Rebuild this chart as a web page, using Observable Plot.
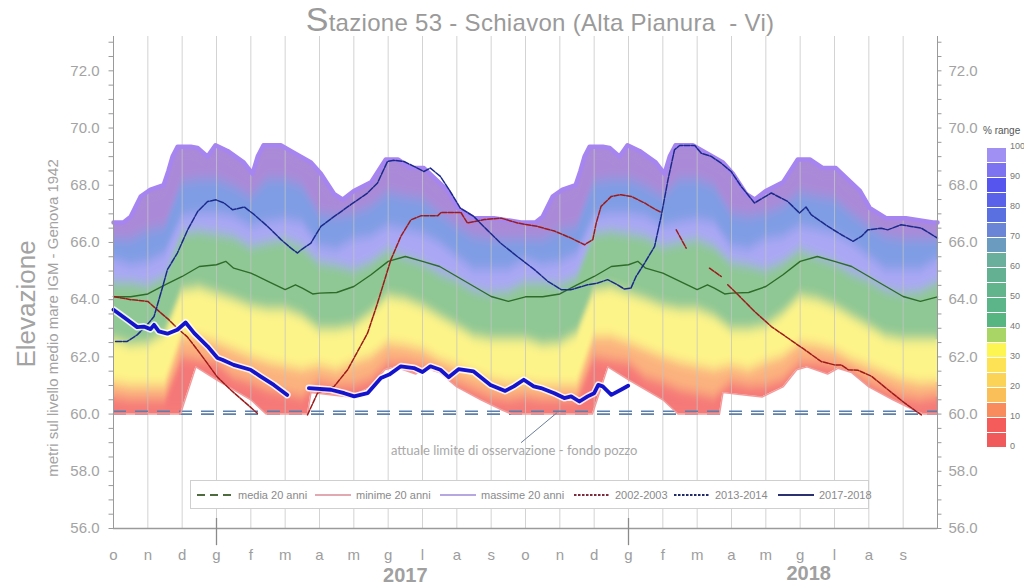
<!DOCTYPE html>
<html><head><meta charset="utf-8">
<script src="https://cdn.jsdelivr.net/npm/d3@7"></script>
<script src="https://cdn.jsdelivr.net/npm/@observablehq/plot@0.6"></script>
<style>
body{margin:0;background:#fff;}
#wrap{position:relative;width:1024px;height:587px;overflow:hidden;font-family:"Liberation Sans",Arial,sans-serif;}
#wrap svg.layer{position:absolute;left:0;top:0;}
#title{position:absolute;left:28px;top:0px;width:1024px;text-align:center;color:#9a9a9a;font-size:24px;white-space:nowrap;letter-spacing:0.3px;}
#title .big{font-size:34px;}
.ylab{position:absolute;white-space:nowrap;color:#a3a3a3;transform:translate(-50%,-50%) rotate(-90deg);}
#cleg{position:absolute;left:979px;top:118px;width:45px;height:340px;background:#fff;}
#cleg .hdr{position:absolute;left:4px;top:7px;font-size:10px;color:#555;white-space:nowrap;}
#cleg .seg{position:absolute;left:8px;width:19px;height:14px;}
#cleg .lbl{position:absolute;left:31px;font-size:9px;color:#777;}
#leg{position:absolute;left:190px;top:480px;width:677px;height:27px;border:1px solid #cfcfcf;background:#fff;}
#leg .it{position:absolute;top:0;height:27px;display:flex;align-items:center;font-size:11px;color:#8a8a8a;white-space:nowrap;}
#leg svg{display:block;}
</style></head>
<body><div id="wrap"></div>
<script>
// ---------------- DATA ----------------
const monthLetters = ["o","n","d","g","f","m","a","m","g","l","a","s"];
const yearLabels = ["2017","2018"];
const yTicksMajor = [56,58,60,62,64,66,68,70,72];
const limitLevels = [60.0, 60.1];

// percentile band boundaries (one hydrological year, months from 1 Oct)
const gridT = [0,0.5,1,1.5,2,2.5,3,3.5,4,4.5,5,5.5,6,6.5,7,7.5,8,8.5,9,9.5,10,10.5,11,11.5,12];
const p85 = [66.1,66.1,66.4,66.55,68.1,68.2,68.2,67.96,67.6,68.2,68.2,67.96,67.0,66.9,67.0,67.26,67.73,67.6,67.5,67.0,66.56,66.2,66.1,66.1,66.1];
const p78 = [65.4,65.2,65.3,65.6,66.9,67.0,67.0,66.9,66.56,66.7,66.8,66.68,65.86,65.75,66.1,66.2,66.56,66.44,66.3,65.97,65.5,65.05,65.05,65.05,65.4];
const p65 = [64.6,64.6,64.5,64.8,66.3,66.4,66.3,66.2,65.86,66.0,66.1,65.86,65.3,65.2,65.05,65.3,65.74,65.5,65.3,64.93,64.7,64.35,64.23,64.3,64.6];
const p38 = [62.6,62.4,62.45,62.8,64.3,64.4,64.2,64.0,63.76,63.65,63.65,63.4,62.95,62.95,63.06,63.5,64.1,64.0,63.76,63.4,63.06,62.7,62.6,62.6,62.6];
const p22 = [61.1,61.0,61.0,61.0,62.7,62.7,62.5,62.25,62.0,61.8,61.67,61.55,61.7,61.55,61.8,62.0,62.48,62.4,62.25,61.9,61.67,61.43,61.2,61.08,61.1];
const p10 = [60.6,60.5,60.5,60.5,62.0,61.9,61.8,61.3,61.1,60.85,60.73,60.6,61.1,60.97,61.0,61.2,61.78,61.78,61.67,61.5,61.1,60.85,60.6,60.5,60.6];

// massime 20 anni
const maxT = [0,0.29,0.5,0.79,1.08,1.46,1.6,1.72,1.87,2.25,2.45,2.74,2.97,3.32,3.79,4.05,4.2,4.37,4.87,5.16,5.75,6.04,6.42,6.68,7.0,7.5,7.93,8.28,8.66,9.04,9.74,10.03,10.5,11.08,11.87,12];
const maxV = [66.7,66.7,66.9,67.6,67.85,68.0,68.5,69.0,69.35,69.35,69.3,69.0,69.4,69.2,68.8,68.4,69.0,69.4,69.4,69.2,68.8,68.4,67.7,67.5,67.8,68.1,68.9,68.9,68.6,68.6,67.8,67.2,66.85,66.85,66.7,66.7];
// minime 20 anni
const minT = [0,1.95,2.4,3.0,4.0,4.45,5.65,5.75,6.5,6.9,7.5,7.9,8.2,8.8,9.1,9.5,10.0,10.7,11.3,11.6,12];
const minV = [60,60,61.65,61.2,60.5,60,60,60.75,60.65,60.6,60.95,61.55,61.65,61.4,61.6,61.45,60.95,60.5,60.15,60,60];
// media 20 anni
const mediaT = [0,0.5,1,1.5,2,2.5,3,3.27,3.5,4,4.5,5,5.3,5.5,5.8,6,6.5,7,7.5,8,8.5,9,9.5,10,10.5,11,11.5,12];
const mediaV = [64.1,64.1,64.2,64.52,64.81,65.16,65.22,65.34,65.1,64.93,64.64,64.35,64.52,64.4,64.2,64.23,64.25,64.46,64.87,65.34,65.51,65.34,65.16,64.81,64.46,64.11,63.94,64.1];

// 2002-2003
const s0203T = [0,0.5,1.0,1.27,1.61,1.86,2.15,2.44,2.73,3.02,3.41,3.8,4.19,4.3,5.65,5.94,6.43,6.82,7.4,7.69,8.08,8.37,8.66,8.95,9.44,9.54,10.12,10.22,10.31,10.8,11.29,11.77,12.35,12.84,13.33,13.72,13.96,14.06,14.2,14.5,14.78,15.08,15.47,15.76,15.95,16.1,16.39,16.68,17.0,17.36,17.7,17.8,17.89,18.19,18.67,19.16,19.64,20.13,20.61,21.0,21.2,21.4,21.69,22.08,22.56,23.05,23.53];
const s0203V = [64.11,64.0,63.94,63.65,63.3,63.0,62.7,62.25,61.78,61.3,60.85,60.44,60.03,null,59.97,60.73,60.97,61.55,62.83,63.88,65.4,66.21,66.79,66.93,66.93,67.05,67.05,66.85,66.68,66.8,66.85,66.68,66.56,66.4,66.15,65.92,66.1,66.68,67.26,67.61,67.67,67.61,67.38,67.17,67.05,null,66.44,65.8,null,65.1,64.81,null,64.52,64.17,63.59,63.06,62.66,62.25,61.84,61.72,61.72,61.55,61.53,61.32,60.85,60.38,59.97];
// 2013-2014
const s1314T = [0.06,0.4,0.69,0.98,1.18,1.42,1.57,1.86,2.16,2.45,2.74,2.98,3.22,3.47,3.81,4.1,4.49,4.88,5.17,5.36,5.46,5.75,6.04,6.43,6.91,7.4,7.69,7.98,8.17,8.46,8.75,9.04,9.23,9.52,9.81,10.1,10.49,10.88,11.27,11.76,12.26,12.65,13.04,13.33,13.81,14.1,14.39,14.68,14.88,15.07,15.22,15.47,15.76,15.95,16.15,16.34,16.49,16.93,17.12,17.41,17.7,17.99,18.28,18.67,19.16,19.64,19.98,20.17,20.32,20.81,21.2,21.54,21.78,21.97,22.36,22.55,22.94,23.23,23.53,24.0];
const s1314V = [62.54,62.54,62.77,63.12,63.41,64.4,65.05,65.63,66.44,67.08,67.43,67.49,67.38,67.14,67.24,66.97,66.56,66.1,65.8,65.63,65.74,65.98,66.56,66.91,67.32,67.73,68.08,68.83,68.87,68.83,68.66,68.48,68.6,68.31,67.78,67.2,66.91,66.44,65.98,65.51,65.05,64.64,64.35,64.35,64.52,64.58,64.7,64.52,64.37,64.4,64.81,65.28,65.86,66.91,68.19,69.24,69.39,69.39,69.12,69.01,68.77,68.48,67.96,67.38,67.73,67.43,67.03,67.24,66.97,66.56,66.27,66.04,66.21,66.44,66.5,66.44,66.62,66.56,66.5,66.15];
// 2017-2018
const s1718T = [0,0.4,0.69,0.88,1.08,1.18,1.32,1.57,1.86,2.1,2.35,2.74,3.03,3.17,3.5,3.99,4.28,4.67,5.06,5.3,5.69,6.33,6.72,7.01,7.4,7.79,8.03,8.37,8.75,9.0,9.23,9.52,9.76,10.05,10.49,10.98,11.41,11.66,11.95,12.24,12.45,12.84,13.13,13.33,13.57,13.81,14.0,14.12,14.25,14.5,14.78,14.99];
const s1718V = [63.65,63.3,63.04,63.06,62.97,63.12,62.89,62.81,62.95,63.2,62.83,62.37,61.96,61.9,61.72,61.55,61.32,61.02,60.67,null,60.91,60.85,60.73,60.62,60.73,61.26,61.38,61.67,61.61,61.47,61.67,61.55,61.29,61.57,61.49,61.02,60.81,60.97,61.2,60.97,60.91,60.73,60.56,60.62,60.44,60.62,60.73,61.02,60.97,60.67,60.85,60.99];

// colour scale of the "% range" legend (top = 100)
const rangeColors = ["#a090f4","#7d72ef","#5656ef","#5b62ea","#5a70e0","#6a84d6","#6b9cbf","#6aae9c","#63b192","#62b48c","#5cb588","#56b581","#a9d566","#fdf552","#fde255","#fbd357","#fbbf5a","#f88c5c","#f45b5b","#f15a5a"];
const rangeLabels = ["100","90","80","70","60","50","40","30","20","10","0"];
const legendItems = ["media 20 anni","minime 20 anni","massime 20 anni","2002-2003","2013-2014","2017-2018"];

// ---------------- BUILD ----------------
const rows = (ts, vs) => ts.map((t, i) => ({t, v: vs[i]}));
const twoYears = (ts, vs) => [0, 12].flatMap(off => ts.map((t, i) => ({t: t + off, v: vs[i]})));

const maxRows = twoYears(maxT, maxV);
const minRows = twoYears(minT, minV);
const mediaRows = twoYears(mediaT, mediaV);
const bands = [
  [maxRows, "#aa8ad8"],
  [twoYears(gridT, p85), "#7f9de4"],
  [twoYears(gridT, p78), "#aaa7f5"],
  [twoYears(gridT, p65), "#8fc894"],
  [twoYears(gridT, p38), "#fdf489"],
  [twoYears(gridT, p22), "#fbb27e"],
  [twoYears(gridT, p10), "#f57878"]
];
const monthRows = d3.range(24).map(i => ({t: i, m: monthLetters[i % 12]}));

const common = {
  width: 1024, height: 587,
  marginLeft: 113, marginRight: 87, marginTop: 36, marginBottom: 59,
  x: {type: "linear", domain: [0, 24], axis: null},
  y: {type: "linear", domain: [56, 73.2], axis: null},
  style: {background: "transparent", overflow: "visible"}
};
const font = "Liberation Sans, Arial, sans-serif";
const bandMarks = () => bands.map(([r, c]) => Plot.areaY(r, {x: "t", y1: 60, y2: "v", fill: c}));

const wrap = document.getElementById("wrap");
const layerA = Plot.plot({...common, marks: bandMarks()});
const layerB = Plot.plot({...common, marks: bandMarks()});
// soften the colour transitions of the percentile bands
(function () {
  const ns = "http://www.w3.org/2000/svg";
  const defs = document.createElementNS(ns, "defs");
  const f = document.createElementNS(ns, "filter");
  f.setAttribute("id", "softBands");
  f.setAttribute("x", "-5%"); f.setAttribute("y", "-10%");
  f.setAttribute("width", "110%"); f.setAttribute("height", "120%");
  const gb = document.createElementNS(ns, "feGaussianBlur");
  gb.setAttribute("stdDeviation", "1.5 6");
  f.appendChild(gb); defs.appendChild(f); layerB.appendChild(defs);
  const g = document.createElementNS(ns, "g");
  g.setAttribute("filter", "url(#softBands)");
  Array.from(layerB.children).filter(n => n.tagName.toLowerCase() === "g").forEach(n => g.appendChild(n));
  layerB.appendChild(g);
})();

const layerC = Plot.plot({...common, marks: [
  // masks
  Plot.areaY(maxRows, {x: "t", y1: "v", y2: 73.6, fill: "white"}),
  Plot.areaY(minRows, {x: "t", y1: 55.0, y2: "v", fill: "white"}),
  Plot.rect([0], {x1: -1, x2: 0, y1: 58, y2: 71, fill: "white"}),
  Plot.rect([0], {x1: 24, x2: 25, y1: 58, y2: 71, fill: "white"}),
  // grid
  Plot.ruleX(d3.range(1, 24), {y1: 56, y2: 73.2, stroke: "#c4c4c4", strokeOpacity: 0.75}),
  // limit lines
  Plot.ruleY(limitLevels, {x1: 0, x2: 24, stroke: "#5b80ad", strokeWidth: 1.6, strokeDasharray: "13,9"}),
  // statistic lines
  Plot.line(minRows, {x: "t", y: "v", stroke: "#f29c9c", strokeWidth: 1.5}),
  Plot.line(maxRows, {x: "t", y: "v", stroke: "#a685f0", strokeWidth: 4.5}),
  Plot.line(mediaRows, {x: "t", y: "v", stroke: "#2f6b2a", strokeWidth: 1.4}),
  Plot.line(rows(s0203T, s0203V), {x: "t", y: "v", stroke: "#9c1a1a", strokeWidth: 1.5, strokeDasharray: "5,1.5"}),
  Plot.line(rows(s1314T, s1314V), {x: "t", y: "v", stroke: "#1b2a8a", strokeWidth: 1.5, strokeDasharray: "6,1.5"}),
  Plot.line(rows(s1718T, s1718V), {x: "t", y: "v", stroke: "white", strokeWidth: 7, strokeOpacity: 0.8}),
  Plot.line(rows(s1718T, s1718V), {x: "t", y: "v", stroke: "#1414cc", strokeWidth: 3.8}),
  // axes
  Plot.ruleX([0, 24], {y1: 56, y2: 73.2, stroke: "#9a9a9a"}),
  Plot.ruleY([56], {x1: 0, x2: 24, stroke: "#9a9a9a", strokeWidth: 1.5}),
  Plot.ruleY(d3.range(56, 73.01, 0.5), {x1: -0.13, x2: 0, stroke: "#9a9a9a"}),
  Plot.ruleY(d3.range(56, 73.01, 0.5), {x1: 24, x2: 24.13, stroke: "#9a9a9a"}),
  Plot.ruleX([3, 15], {y1: 55.4, y2: 56.35, stroke: "#8a8a8a", strokeWidth: 1.3}),
  Plot.text(yTicksMajor, {x: 0, y: d => d, text: d => d.toFixed(1), dx: -14, textAnchor: "end", fill: "#a3a3a3", fontSize: 15, fontFamily: font}),
  Plot.text(yTicksMajor, {x: 24, y: d => d, text: d => d.toFixed(1), dx: 11, textAnchor: "start", fill: "#a3a3a3", fontSize: 15, fontFamily: font}),
  Plot.text(monthRows, {x: "t", y: 56, dy: 27, text: "m", fill: "#9d9d9d", fontSize: 15, fontFamily: font}),
  Plot.text([yearLabels[0]], {x: 8.5, y: 56, dy: 47, text: d => d, fill: "#a0a0a0", fontSize: 20, fontWeight: "bold", fontFamily: font}),
  Plot.text([yearLabels[1]], {x: 20.25, y: 56, dy: 45, text: d => d, fill: "#a0a0a0", fontSize: 20, fontWeight: "bold", fontFamily: font}),
  // annotation
  Plot.link([0], {x1: 12.92, y1: 60.05, x2: 11.87, y2: 59.0, stroke: "#6b7f99", strokeWidth: 1}),
  Plot.text(["attuale limite di osservazione - fondo pozzo"], {x: 11.67, y: 58.72, text: d => d, fill: "#a8a8a8", fontSize: 13, fontFamily: "Lato, Open Sans, sans-serif"})
]});

[layerA, layerB, layerC].forEach(s => { s.classList.add("layer"); wrap.appendChild(s); });

// title
const title = document.createElement("div");
title.id = "title";
title.innerHTML = '<span class="big">S</span>tazione 53 - Schiavon (Alta Pianura&nbsp; - Vi)';
wrap.appendChild(title);

// y titles
const yl1 = document.createElement("div");
yl1.className = "ylab"; yl1.textContent = "Elevazione";
Object.assign(yl1.style, {left: "26px", top: "304px", fontSize: "26px"});
wrap.appendChild(yl1);
const yl2 = document.createElement("div");
yl2.className = "ylab"; yl2.textContent = "metri sul livello medio mare IGM - Genova 1942";
Object.assign(yl2.style, {left: "52px", top: "318px", fontSize: "15px"});
wrap.appendChild(yl2);

// colour legend
const cleg = document.createElement("div");
cleg.id = "cleg";
let ch = '<div class="hdr">% range</div>';
rangeColors.forEach((c, i) => { ch += `<div class="seg" style="top:${30 + i * 15}px;background:${c}"></div>`; });
rangeLabels.forEach((l, i) => { ch += `<div class="lbl" style="top:${23 + i * 30}px">${l}</div>`; });
cleg.innerHTML = ch;
wrap.appendChild(cleg);

// bottom legend
const legStyles = [
  {c: "#4d6b3f", w: 2, d: "8,5"},
  {c: "#e3a9b0", w: 2, d: ""},
  {c: "#b6a6e2", w: 2, d: ""},
  {c: "#7d2a3a", w: 2, d: "2.5,1.5"},
  {c: "#1f2a6b", w: 2, d: "2.5,1.5"},
  {c: "#2a3070", w: 2, d: ""}
];
const legX = [4, 122, 247, 381, 481, 585];
const leg = document.createElement("div");
leg.id = "leg";
let lh = "";
legendItems.forEach((name, i) => {
  const s = legStyles[i];
  lh += `<div class="it" style="left:${legX[i]}px"><svg width="40" height="6"><line x1="2" x2="38" y1="3" y2="3" stroke="${s.c}" stroke-width="${s.w}" stroke-dasharray="${s.d}"/></svg><span style="margin-left:3px">${name}</span></div>`;
});
leg.innerHTML = lh;
wrap.appendChild(leg);
</script>
</body></html>
